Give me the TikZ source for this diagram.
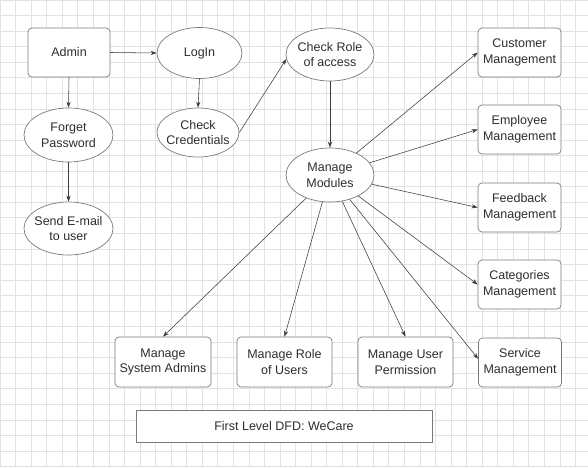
\documentclass[tikz,border=0pt]{standalone}
\usepackage{fontspec}
\setmainfont{Liberation Sans}
\usetikzlibrary{shapes.geometric,arrows.meta}
\definecolor{gridc}{HTML}{E2E2E2}
\definecolor{edgec}{HTML}{7A7A7A}
\definecolor{linec}{HTML}{3C3C3C}
\definecolor{txtc}{HTML}{2E2E2E}
\tikzset{
  base/.style={draw=edgec, line width=0.7pt, fill=white, inner sep=0pt},
  boxnode/.style={base, rectangle, rounded corners=4pt, minimum width=83pt, minimum height=49pt},
  procnode/.style={base, ellipse},
  txtnode/.style={align=center, text=txtc, font=\fontsize{12.5}{15.8}\selectfont, inner sep=0pt},
  flow/.style={draw=linec, line width=0.55pt, -{Stealth[length=6pt,width=4.2pt]}}
}
\begin{document}
\begin{tikzpicture}[x=1pt,y=-1pt]
\useasboundingbox (0,0) rectangle (588,468);
\fill[white] (0,0) rectangle (588,468);
% grid
\foreach \i in {0,...,37} {
  \draw[gridc, line width=0.6pt] ({\i*15.55},0) -- ({\i*15.55},466);
}
\foreach \j in {0,...,29} {
  \draw[gridc, line width=0.6pt] (0,{\j*15.55}) -- (588,{\j*15.55});
}
\draw[gridc, line width=0.8pt] (0,466) -- (588,466);

% boxes
\node[boxnode, minimum width=82pt] (admin) at (69,52.5) {};
\node[txtnode] (admin-t) at (admin) {Admin};
\node[boxnode] (customer) at (519.5,52.5) {};
\node[txtnode] (customer-t) at (customer) {Customer\\Management};
\node[boxnode] (employee) at (519.5,129.5) {};
\node[txtnode] (employee-t) at (employee) {Employee\\Management};
\node[boxnode] (feedback) at (519.5,207.5) {};
\node[txtnode] (feedback-t) at (feedback) {Feedback\\Management};
\node[boxnode] (categories) at (519.5,284.5) {};
\node[txtnode] (categories-t) at (categories) {Categories\\Management};
\node[boxnode] (service) at (520,362.5) {};
\node[txtnode] (service-t) at (service) {Service\\Management};
\node[boxnode, minimum width=96pt, minimum height=50pt] (sysadm) at (163,362) {};
\node[txtnode] (sysadm-t) at (sysadm) {Manage\\System Admins};
\node[boxnode, minimum width=95pt, minimum height=50pt] (roleusers) at (284.5,362) {};
\node[txtnode] (roleusers-t) at (roleusers) {Manage Role\\of Users};
\node[boxnode, minimum width=95pt, minimum height=50pt] (perm) at (405.5,362) {};
\node[txtnode] (perm-t) at (perm) {Manage User\\Permission};
\node[base, rectangle, minimum width=296pt, minimum height=32pt] (title) at (284,426) {};
\node[txtnode] (title-t) at (title) {First Level DFD: WeCare};

% ellipses
\node[procnode, minimum width=85pt, minimum height=51pt] (login) at (199.5,53) {};
\node[txtnode] (login-t) at (login) {LogIn};
\node[procnode, minimum width=89pt, minimum height=54pt] (forget) at (68.5,135) {};
\node[txtnode] (forget-t) at (forget) {Forget\\Password};
\node[procnode, minimum width=82pt, minimum height=49pt] (cred) at (198,132.5) {};
\node[txtnode] (cred-t) at (cred) {Check\\Credentials};
\node[procnode, minimum width=89pt, minimum height=53pt] (send) at (68.5,228.5) {};
\node[txtnode] (send-t) at (send) {Send E-mail\\to user};
\node[procnode, minimum width=88pt, minimum height=53pt] (role) at (330,54.5) {};
\node[txtnode] (role-t) at (role) {Check Role\\of access};
\node[procnode, minimum width=88pt, minimum height=54pt] (modules) at (330,175) {};
\node[txtnode] (modules-t) at (modules) {Manage\\Modules};

% connectors
\draw[flow] (admin.east) -- (login.west);
\draw[flow] (admin.south) -- (forget.north);
\draw[flow] (login.south) -- (cred.north);
\draw[flow] (forget.south) -- (send.north);
\draw[flow] (cred.east) -- (role.186);
\draw[flow] (role.south) -- (modules.north);
\draw[flow] (modules) -- (customer.west);
\draw[flow] (modules) -- (employee.west);
\draw[flow] (modules) -- (feedback.west);
\draw[flow] (modules) -- (categories.west);
\draw[flow] (modules) -- (service.175);
\draw[flow] (modules) -- (perm.north);
\draw[flow] (modules) -- (roleusers.north);
\draw[flow] (modules) -- (sysadm.north);
\end{tikzpicture}
\end{document}
